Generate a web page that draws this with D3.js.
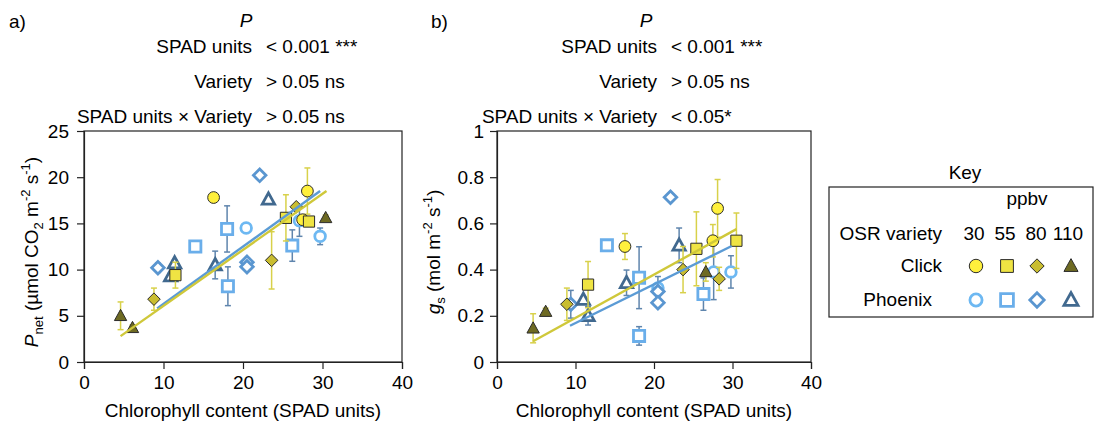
<!DOCTYPE html>
<html>
<head>
<meta charset="utf-8">
<script src="https://cdn.jsdelivr.net/npm/d3@7"></script>
<style>
  body { margin: 0; background: #fff; }
  svg text { font-family: Arial, "Liberation Sans", sans-serif; fill: #000; }
</style>
</head>
<body>
<svg id="chart" width="1094" height="422"></svg>
<script>
// ppbv levels, one entry per marker shape
const ppbv = ["30", "55", "80", "110"];
const varieties = ["Click", "Phoenix"];

// panel a) Pnet vs SPAD, arrays indexed by ppbv level
const aClickSpad = [[16.3, 28.1, 27.5], [11.5, 25.4, 28.3], [8.8, 23.6, 26.7], [4.6, 6.1, 30.4]];
const aClickVal  = [[17.8, 18.5, 15.4], [9.4, 15.6, 15.2], [6.8, 11.0, 16.8], [5.0, 3.7, 15.6]];
const aClickErr  = [[0.3, 2.5, 0.5], [1.4, 2.5, 0.4], [1.2, 3.1, 0.3], [1.5, 0.3, 0.3]];
const aPhoenixSpad = [[20.4, 27.1, 29.7], [14.0, 18.0, 18.1, 26.2], [9.3, 22.1, 20.5, 20.5], [10.9, 11.4, 16.5, 23.2]];
const aPhoenixVal  = [[14.5, 15.3, 13.6], [12.5, 14.4, 8.2, 12.6], [10.2, 20.2, 10.8, 10.3], [9.3, 10.7, 10.5, 17.6]];
const aPhoenixErr  = [[0.3, 1.7, 0.9], [0.6, 2.5, 2.1, 1.7], [0.5, 0.2, 0.3, 0.3], [0.3, 0.3, 1.5, 0.3]];
const aFitClick   = [[4.6, 2.8], [30.5, 18.5]];
const aFitPhoenix = [[9.2, 5.8], [29.7, 18.5]];

// panel b) gs vs SPAD
const bClickSpad = [[16.3, 28.1, 27.5], [11.6, 25.4, 30.5], [8.9, 23.7, 28.3], [4.6, 6.2, 26.6]];
const bClickVal  = [[0.50, 0.665, 0.525], [0.335, 0.49, 0.525], [0.25, 0.40, 0.36], [0.146, 0.218, 0.39]];
const bClickErr  = [[0.056, 0.125, 0.07], [0.1, 0.16, 0.12], [0.07, 0.1, 0.05], [0.063, 0.015, 0.04]];
const bPhoenixSpad = [[20.5, 27.6, 29.8], [14.0, 18.1, 18.1, 26.3], [9.4, 22.1, 20.5, 20.5], [11.0, 11.6, 16.5, 23.2]];
const bPhoenixVal  = [[0.32, 0.39, 0.39], [0.505, 0.365, 0.113, 0.294], [0.25, 0.713, 0.305, 0.257], [0.27, 0.20, 0.343, 0.505]];
const bPhoenixErr  = [[0.05, 0.12, 0.07], [0.01, 0.134, 0.04, 0.07], [0.06, 0.01, 0.03, 0.01], [0.01, 0.04, 0.055, 0.075]];
const bFitClick   = [[4.6, 0.09], [30.5, 0.575]];
const bFitPhoenix = [[9.3, 0.157], [29.9, 0.502]];

const xTicks = [0, 10, 20, 30, 40];
const aYTicks = [0, 5, 10, 15, 20, 25];
const bYTicks = [0, 0.2, 0.4, 0.6, 0.8, 1];

const clickFill = ["#fff03c", "#efe443", "#c9bd30", "#6e6a22"];
const phoenixStroke = ["#6db8f2", "#6aaeea", "#5a96d0", "#41698f"];
const clickErrColor = "#d8d14a";
const phoenixErrColor = "#5f85ad";
const clickLine = "#cfc83a";
const phoenixLine = "#5b9bd5";

const svg = d3.select("#chart");

function shapePath(i, s) {
  if (i === 1) return `M${-s},${-s}H${s}V${s}H${-s}Z`;
  if (i === 2) { const d = s * 1.12; return `M0,${-d}L${d},0L0,${d}L${-d},0Z`; }
  if (i === 3) { const w = s * 1.1; return `M0,${-s * 1.15}L${w},${s * 0.85}L${-w},${s * 0.85}Z`; }
  return null;
}

function marker(g, i, x, y, s, filled, color) {
  let el;
  if (i === 0) {
    el = g.append("circle").attr("cx", x).attr("cy", y).attr("r", filled ? s * 1.05 : s * 0.95);
  } else {
    el = g.append("path").attr("d", shapePath(i, s)).attr("transform", `translate(${x},${y})`);
  }
  if (filled) el.attr("fill", color).attr("stroke", "#2b2b2b").attr("stroke-width", 1);
  else el.attr("fill", "#fff").attr("stroke", color).attr("stroke-width", 2.8);
}

function drawPanel(p) {
  const x = d3.scaleLinear().domain([0, 40]).range([p.left, p.right]);
  const y = d3.scaleLinear().domain([0, p.yMax]).range([362, 131]);
  const g = svg.append("g");

  // frame
  g.append("rect").attr("x", p.left).attr("y", 131)
    .attr("width", p.right - p.left).attr("height", 231)
    .attr("fill", "none").attr("stroke", "#222").attr("stroke-width", 1.2);

  const xAxis = g.append("g").attr("transform", "translate(0,362)")
    .call(d3.axisBottom(x).tickValues(xTicks).tickSize(7).tickPadding(7));
  const yAxis = g.append("g").attr("transform", `translate(${p.left},0)`)
    .call(d3.axisLeft(y).tickValues(p.yTicks).tickSize(7).tickPadding(p.pad).tickFormat(d3.format("~g")));
  [xAxis, yAxis].forEach(a => {
    a.select(".domain").attr("stroke", "#222").attr("stroke-width", 1.2);
    a.selectAll(".tick line").attr("stroke", "#222").attr("stroke-width", 1.2);
    a.selectAll(".tick text").attr("font-size", 19).attr("font-family", "Arial, Liberation Sans, sans-serif");
  });

  // points: Phoenix first, Click on top
  const groups = [
    { spad: p.phoenixSpad, val: p.phoenixVal, err: p.phoenixErr, filled: false, colors: phoenixStroke, ec: phoenixErrColor },
    { spad: p.clickSpad, val: p.clickVal, err: p.clickErr, filled: true, colors: clickFill, ec: clickErrColor }
  ];
  groups.forEach(gr => {
    gr.spad.forEach((arr, i) => {
      arr.forEach((sv, k) => {
        const cx = x(sv), v = gr.val[i][k], e = gr.err[i][k];
        const eg = g.append("g").attr("stroke", gr.ec).attr("stroke-width", 1.5);
        eg.append("line").attr("x1", cx).attr("x2", cx).attr("y1", y(v - e)).attr("y2", y(v + e));
        [v - e, v + e].forEach(t => eg.append("line")
          .attr("x1", cx - 3).attr("x2", cx + 3).attr("y1", y(t)).attr("y2", y(t)));
      });
    });
    gr.spad.forEach((arr, i) => {
      arr.forEach((sv, k) => marker(g, i, x(sv), y(gr.val[i][k]), 5.6, gr.filled, gr.colors[i]));
    });
  });

  // regression lines
  const line = d3.line().x(d => x(d[0])).y(d => y(d[1]));
  g.append("path").attr("d", line(p.fitPhoenix)).attr("fill", "none")
    .attr("stroke", phoenixLine).attr("stroke-width", 2.4);
  g.append("path").attr("d", line(p.fitClick)).attr("fill", "none")
    .attr("stroke", clickLine).attr("stroke-width", 2.4);

  // x label
  g.append("text").attr("x", (p.left + p.right) / 2).attr("y", 417)
    .attr("text-anchor", "middle").attr("font-size", 19)
    .text("Chlorophyll content (SPAD units)");

  // y label
  const yl = g.append("text").attr("transform", `translate(${p.ylx},252) rotate(-90)`)
    .attr("text-anchor", "middle").attr("font-size", 19);
  p.ylabel.forEach(part => {
    const t = yl.append("tspan").text(part.t);
    if (part.i) t.attr("font-style", "italic");
    if (part.dy) t.attr("dy", part.dy).attr("font-size", 13);
    if (part.back) t.attr("dy", part.back);
  });

  // header with P values
  const h = svg.append("g").attr("font-size", 19);
  h.append("text").attr("x", p.tagX).attr("y", 28).attr("font-size", 19).text(p.tag);
  h.append("text").attr("x", p.pX).attr("y", 27).attr("text-anchor", "middle")
    .attr("font-style", "italic").attr("font-size", 19).text("P");
  p.stats.forEach((s, k) => {
    const by = 53 + k * 35;
    h.append("text").attr("x", p.colX).attr("y", by).attr("text-anchor", "end").attr("font-size", 19).text(s[0]);
    h.append("text").attr("x", p.colX + 14).attr("y", by).attr("font-size", 19).text(s[1]);
  });
}

drawPanel({
  left: 84, right: 402, yMax: 25, yTicks: aYTicks, pad: 8, ylx: 38,
  clickSpad: aClickSpad, clickVal: aClickVal, clickErr: aClickErr,
  phoenixSpad: aPhoenixSpad, phoenixVal: aPhoenixVal, phoenixErr: aPhoenixErr,
  fitClick: aFitClick, fitPhoenix: aFitPhoenix,
  ylabel: [{ t: "P", i: true }, { t: "net", dy: 5 }, { t: " (µmol CO", back: -5 }, { t: "2", dy: 5 },
           { t: " m", back: -5 }, { t: "-2", dy: -8 }, { t: " s", back: 8 }, { t: "-1", dy: -8 }, { t: ")", back: 8 }],
  tag: "a)", tagX: 9, pX: 246, colX: 252,
  stats: [["SPAD units", "< 0.001 ***"], ["Variety", "> 0.05 ns"], ["SPAD units \u00d7 Variety", "> 0.05 ns"]]
});

drawPanel({
  left: 497, right: 811, yMax: 1, yTicks: bYTicks, pad: 6, ylx: 440,
  clickSpad: bClickSpad, clickVal: bClickVal, clickErr: bClickErr,
  phoenixSpad: bPhoenixSpad, phoenixVal: bPhoenixVal, phoenixErr: bPhoenixErr,
  fitClick: bFitClick, fitPhoenix: bFitPhoenix,
  ylabel: [{ t: "g", i: true }, { t: "s", dy: 5 }, { t: " (mol m", back: -5 }, { t: "-2", dy: -8 },
           { t: " s", back: 8 }, { t: "-1", dy: -8 }, { t: ")", back: 8 }],
  tag: "b)", tagX: 431, pX: 646, colX: 657,
  stats: [["SPAD units", "< 0.001 ***"], ["Variety", "> 0.05 ns"], ["SPAD units \u00d7 Variety", "< 0.05*"]]
});

// key
const key = svg.append("g").attr("font-size", 19);
key.append("text").attr("x", 965).attr("y", 179).attr("text-anchor", "middle").text("Key");
key.append("rect").attr("x", 829).attr("y", 187).attr("width", 264).attr("height", 130)
  .attr("fill", "none").attr("stroke", "#222").attr("stroke-width", 1.2);
key.append("text").attr("x", 1027).attr("y", 205).attr("text-anchor", "middle").text("ppbv");
key.append("text").attr("x", 942).attr("y", 240).attr("text-anchor", "end").text("OSR variety");
const keyX = [976, 1007, 1037, 1071];
const labelX = [974, 1005, 1036, 1068];
ppbv.forEach((d, i) => key.append("text").attr("x", labelX[i]).attr("y", 240).attr("text-anchor", "middle").text(d));
const rowY = [266, 300];
varieties.forEach((v, r) => {
  key.append("text").attr("x", r === 0 ? 942 : 932).attr("y", rowY[r] + 6).attr("text-anchor", "end").text(v);
  ppbv.forEach((d, i) => marker(key, i, keyX[i], rowY[r], 6.4, r === 0, r === 0 ? clickFill[i] : phoenixStroke[i]));
});
</script>
</body>
</html>
